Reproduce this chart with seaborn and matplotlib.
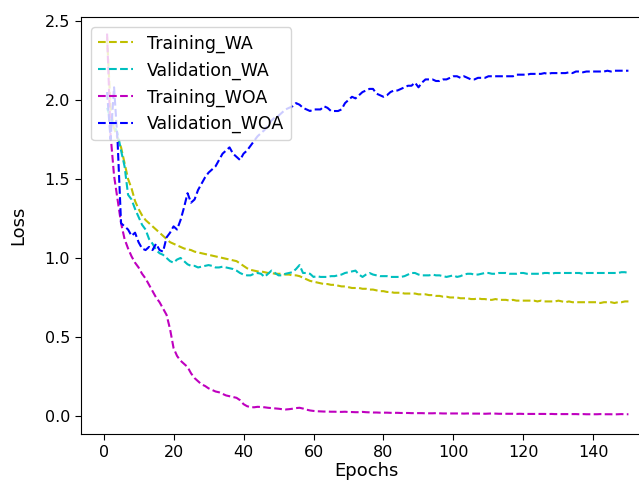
"""Loss curves with and without augmentation, redrawn with seaborn."""
import matplotlib
matplotlib.use("Agg")
import matplotlib.pyplot as plt
import numpy as np
import pandas as pd
import seaborn as sns

epochs = list(range(1, 151))

training_wa = [
    2.40, 1.95, 1.82, 1.76, 1.70, 1.60, 1.50, 1.44, 1.36, 1.31,
    1.27, 1.24, 1.22, 1.20, 1.18, 1.16, 1.14, 1.12, 1.10, 1.09,
    1.08, 1.07, 1.06, 1.055, 1.05, 1.04, 1.035, 1.03, 1.025, 1.02,
    1.015, 1.01, 1.005, 1.00, 0.995, 0.99, 0.985, 0.98, 0.965, 0.95,
    0.935, 0.925, 0.92, 0.915, 0.915, 0.91, 0.905, 0.905, 0.90, 0.90,
    0.90, 0.895, 0.895, 0.89, 0.89, 0.885, 0.875, 0.865, 0.855, 0.85,
    0.845, 0.84, 0.835, 0.835, 0.83, 0.83, 0.825, 0.82, 0.82, 0.815,
    0.81, 0.81, 0.81, 0.805, 0.805, 0.80, 0.80, 0.795, 0.79, 0.79,
    0.785, 0.785, 0.78, 0.78, 0.78, 0.775, 0.775, 0.775, 0.775, 0.77,
    0.77, 0.77, 0.765, 0.765, 0.76, 0.76, 0.755, 0.755, 0.75, 0.75,
    0.75, 0.745, 0.745, 0.745, 0.74, 0.74, 0.745, 0.74, 0.74, 0.735,
    0.735, 0.74, 0.735, 0.735, 0.735, 0.73, 0.735, 0.73, 0.73, 0.73,
    0.73, 0.73, 0.73, 0.725, 0.73, 0.725, 0.725, 0.725, 0.725, 0.73,
    0.725, 0.72, 0.725, 0.72, 0.72, 0.72, 0.72, 0.72, 0.72, 0.72,
    0.72, 0.715, 0.72, 0.72, 0.72, 0.715, 0.72, 0.72, 0.725, 0.725,
]

validation_wa = [
    1.95, 1.88, 1.84, 1.79, 1.68, 1.58, 1.40, 1.37, 1.31, 1.26,
    1.21, 1.18, 1.12, 1.09, 1.05, 1.03, 1.02, 1.00, 0.98, 0.97,
    0.99, 1.00, 0.98, 0.96, 0.95, 0.95, 0.94, 0.945, 0.95, 0.955,
    0.95, 0.94, 0.94, 0.945, 0.94, 0.935, 0.93, 0.92, 0.905, 0.895,
    0.89, 0.89, 0.90, 0.905, 0.90, 0.88, 0.90, 0.92, 0.905, 0.89,
    0.89, 0.90, 0.905, 0.91, 0.93, 0.955, 0.905, 0.905, 0.90, 0.88,
    0.885, 0.88, 0.88, 0.88, 0.885, 0.885, 0.89, 0.895, 0.905, 0.91,
    0.915, 0.92, 0.895, 0.88, 0.895, 0.905, 0.895, 0.89, 0.885, 0.885,
    0.885, 0.88, 0.88, 0.88, 0.88, 0.885, 0.895, 0.905, 0.905, 0.895,
    0.89, 0.89, 0.89, 0.895, 0.89, 0.89, 0.885, 0.88, 0.885, 0.89,
    0.88, 0.885, 0.895, 0.90, 0.90, 0.895, 0.895, 0.90, 0.905, 0.905,
    0.90, 0.90, 0.905, 0.905, 0.905, 0.90, 0.90, 0.90, 0.905, 0.905,
    0.90, 0.90, 0.90, 0.90, 0.90, 0.905, 0.905, 0.90, 0.905, 0.905,
    0.905, 0.905, 0.905, 0.905, 0.905, 0.905, 0.90, 0.905, 0.905, 0.905,
    0.905, 0.905, 0.905, 0.905, 0.905, 0.905, 0.905, 0.91, 0.91, 0.905,
]

training_woa = [
    2.42, 1.78, 1.52, 1.37, 1.22, 1.12, 1.06, 1.01, 0.97, 0.94,
    0.90, 0.87, 0.83, 0.79, 0.75, 0.72, 0.68, 0.64, 0.55, 0.43,
    0.38, 0.35, 0.33, 0.31, 0.27, 0.24, 0.22, 0.20, 0.19, 0.175,
    0.165, 0.155, 0.15, 0.14, 0.13, 0.125, 0.12, 0.115, 0.10, 0.075,
    0.062, 0.056, 0.055, 0.058, 0.057, 0.055, 0.052, 0.05, 0.048, 0.046,
    0.043, 0.041, 0.043, 0.046, 0.05, 0.052, 0.047, 0.04, 0.035, 0.032,
    0.03, 0.029, 0.028, 0.028, 0.027, 0.027, 0.026, 0.026, 0.027, 0.025,
    0.025, 0.024, 0.024, 0.026, 0.024, 0.023, 0.022, 0.022, 0.021, 0.021,
    0.021, 0.02, 0.02, 0.02, 0.019, 0.019, 0.019, 0.018, 0.018, 0.018,
    0.018, 0.017, 0.017, 0.017, 0.018, 0.017, 0.016, 0.016, 0.016, 0.016,
    0.016, 0.016, 0.015, 0.016, 0.015, 0.015, 0.015, 0.015, 0.014, 0.015,
    0.016, 0.015, 0.014, 0.014, 0.014, 0.014, 0.014, 0.013, 0.014, 0.013,
    0.013, 0.013, 0.013, 0.013, 0.013, 0.013, 0.012, 0.013, 0.012, 0.012,
    0.012, 0.012, 0.012, 0.012, 0.012, 0.011, 0.012, 0.011, 0.011, 0.011,
    0.011, 0.012, 0.011, 0.011, 0.011, 0.010, 0.011, 0.012, 0.011, 0.011,
]

validation_woa = [
    2.05, 1.75, 2.08, 1.74, 1.22, 1.20, 1.18, 1.14, 1.16, 1.10,
    1.06, 1.05, 1.07, 1.05, 1.09, 1.05, 1.04, 1.13, 1.16, 1.20,
    1.18, 1.24, 1.32, 1.41, 1.35, 1.37, 1.43, 1.47, 1.51, 1.54,
    1.56, 1.58, 1.62, 1.66, 1.68, 1.70, 1.66, 1.64, 1.62, 1.66,
    1.68, 1.71, 1.74, 1.77, 1.79, 1.81, 1.84, 1.87, 1.89, 1.90,
    1.92, 1.94, 1.95, 1.96, 1.98, 1.97, 1.95, 1.94, 1.93, 1.94,
    1.94, 1.94, 1.96, 1.95, 1.93, 1.93, 1.93, 1.94, 1.98, 2.00,
    2.02, 2.01, 2.03, 2.05, 2.06, 2.07, 2.07, 2.04, 2.03, 2.02,
    2.03, 2.05, 2.06, 2.06, 2.07, 2.08, 2.09, 2.09, 2.11, 2.08,
    2.11, 2.13, 2.13, 2.13, 2.12, 2.12, 2.13, 2.13, 2.14, 2.15,
    2.15, 2.14, 2.15, 2.14, 2.13, 2.13, 2.14, 2.14, 2.14, 2.15,
    2.15, 2.15, 2.15, 2.15, 2.15, 2.15, 2.15, 2.16, 2.16, 2.16,
    2.16, 2.165, 2.165, 2.165, 2.165, 2.17, 2.165, 2.17, 2.17, 2.17,
    2.17, 2.17, 2.175, 2.17, 2.18, 2.18, 2.175, 2.18, 2.18, 2.18,
    2.18, 2.18, 2.18, 2.185, 2.18, 2.185, 2.185, 2.185, 2.185, 2.185,
]

series_names = ["Training_WA", "Validation_WA", "Training_WOA", "Validation_WOA"]
series_colors = ["y", "c", "m", "b"]

df = pd.DataFrame({
    "Epochs": epochs,
    "Training_WA": training_wa,
    "Validation_WA": validation_wa,
    "Training_WOA": training_woa,
    "Validation_WOA": validation_woa,
})

fig = plt.figure(figsize=(6.39, 4.82), dpi=100)
# the original picture is cropped on the right, so the axes run past the edge
ax = fig.add_axes([81 / 639, 48 / 482, 570 / 639, 417 / 482])

for name, color in zip(series_names, series_colors):
    sns.lineplot(data=df, x="Epochs", y=name, color=color, linestyle="--",
                 linewidth=1.5, label=name, ax=ax)

ax.set_xlim(-6.45, 156.45)
ax.set_ylim(-0.114, 2.525)
ax.set_xticks(np.arange(0, 141, 20))
ax.set_yticks(np.arange(0, 2.51, 0.5))
ax.tick_params(labelsize=11.5, length=4.5)
ax.set_xlabel("Epochs", fontsize=13, labelpad=1)
ax.set_ylabel("Loss", fontsize=13, labelpad=12)
ax.legend(loc="upper left", fontsize=12.5, borderaxespad=0.6)

fig.savefig("out.png", dpi=100)
plt.close(fig)
